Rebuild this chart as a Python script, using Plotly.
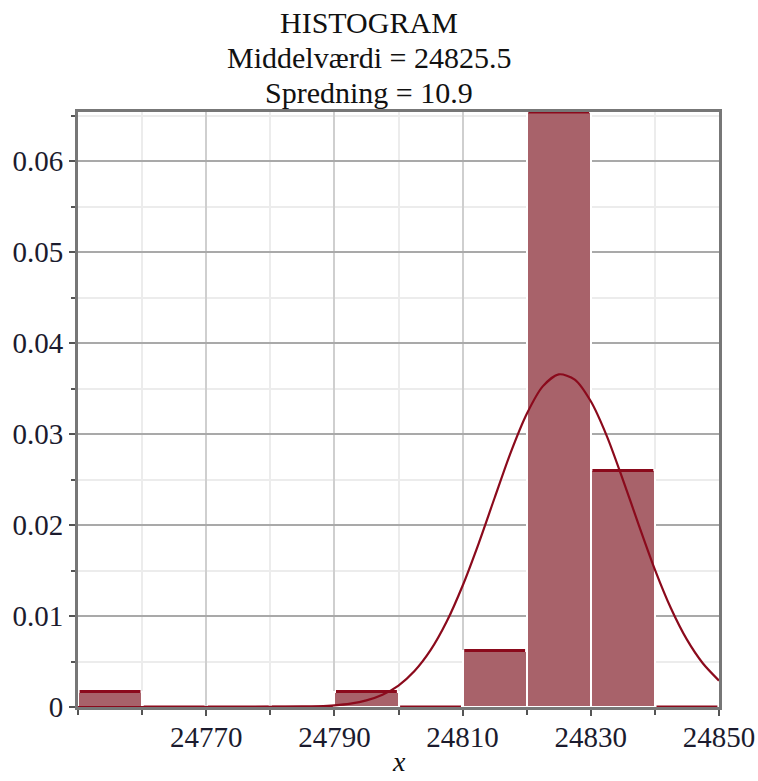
import plotly.graph_objects as go

# Histogram data (density), bin edges of width 10
bin_left = [24750, 24760, 24770, 24780, 24790, 24800, 24810, 24820, 24830, 24840]
bin_height = [0.0017, 0.0, 0.0, 0.0, 0.0017, 0.0, 0.0062, 0.0654, 0.0260, 0.0]
bin_width = 10

# Fitted normal curve
curve_x = [24750, 24755, 24760, 24765, 24770, 24775, 24780, 24785, 24787.5, 24790, 24792.5,
           24795, 24797.5, 24800, 24802.5, 24805, 24807.5, 24810, 24812.5, 24815, 24817.5,
           24820, 24822.5, 24825, 24827.5, 24830, 24832.5, 24835, 24837.5, 24840, 24842.5,
           24845, 24847.5, 24850]
curve_y = [0.0, 0.0, 0.0, 0.0, 0.0, 0.000001, 0.000006, 0.000037, 0.000084, 0.00018, 0.00037,
           0.00073, 0.00135, 0.00236, 0.00395, 0.00624, 0.00936, 0.01333, 0.01797, 0.0230, 0.02796,
           0.0322, 0.03524, 0.03656, 0.03599, 0.0336, 0.02978, 0.0250, 0.01997, 0.0151, 0.01085,
           0.0074, 0.00478, 0.0029]

title_lines = ["HISTOGRAM", "Middelværdi = 24825.5", "Spredning = 10.9"]
y_tickvals = [0, 0.01, 0.02, 0.03, 0.04, 0.05, 0.06]
y_ticktext = ["0", "0.01", "0.02", "0.03", "0.04", "0.05", "0.06"]
x_tickvals = [24770, 24790, 24810, 24830, 24850]
x_ticktext = ["24770", "24790", "24810", "24830", "24850"]

FONT = "Liberation Serif, Times New Roman, serif"
BAR_FILL = "#a8626a"
DARK = "#8b0a1c"

fig = go.Figure()

centers = [b + bin_width / 2 for b in bin_left]
fig.add_trace(go.Bar(
    x=centers, y=bin_height, width=[bin_width] * len(centers),
    marker=dict(color=BAR_FILL, line=dict(color="white", width=2)),
    hoverinfo="skip", showlegend=False,
))

# top edges of the bins
tx, ty = [], []
for b, h in zip(bin_left, bin_height):
    tx += [b + 0.25, b + bin_width - 0.25, None]
    ty += [h, h, None]
fig.add_trace(go.Scatter(x=tx, y=ty, mode="lines",
                         line=dict(color=DARK, width=3), showlegend=False, hoverinfo="skip"))

fig.add_trace(go.Scatter(x=curve_x, y=curve_y, mode="lines",
                         line=dict(color=DARK, width=2.2, shape="spline", smoothing=0.8),
                         showlegend=False, hoverinfo="skip"))

ymax = max(bin_height)

fig.update_layout(
    width=758, height=781,
    margin=dict(l=78, r=39, t=112, b=74),
    paper_bgcolor="white", plot_bgcolor="white",
    bargap=0,
    font=dict(family=FONT, size=29, color="#1b1b2e"),
    xaxis=dict(
        range=[24750, 24850], tickvals=x_tickvals, ticktext=x_ticktext,
        automargin=False, ticklabelstandoff=-4,
        showgrid=True, gridcolor="#cfcfcf", gridwidth=2,
        ticks="outside", ticklen=6, tickcolor="#555", tickwidth=2,
        minor=dict(dtick=10, tick0=24750, showgrid=True, gridcolor="#ececec", gridwidth=2,
                   ticks="outside", ticklen=5, tickcolor="#555", tickwidth=2),
        showline=True, linecolor="#777", linewidth=3, mirror=True,
        zeroline=False, tickfont=dict(family=FONT, size=29),
    ),
    yaxis=dict(
        range=[0, ymax], tickvals=y_tickvals, ticktext=y_ticktext,
        automargin=False,
        showgrid=True, gridcolor="#a9a9a9", gridwidth=1.5,
        ticks="outside", ticklen=6, tickcolor="#555", tickwidth=2,
        minor=dict(dtick=0.005, tick0=0, showgrid=True, gridcolor="#ececec", gridwidth=2,
                   ticks="outside", ticklen=4, tickcolor="#555", tickwidth=2),
        showline=True, linecolor="#777", linewidth=3, mirror=True,
        zeroline=False, tickfont=dict(family=FONT, size=29),
    ),
)

for text, y in zip(title_lines, [1.151, 1.092, 1.032]):
    fig.add_annotation(text=text, x=0.454, y=y, xref="paper", yref="paper",
                       showarrow=False, xanchor="center", yanchor="middle",
                       font=dict(family=FONT, size=30, color="#111"))

fig.add_annotation(text="<i>x</i>", x=0.5, y=-0.12, xref="paper", yref="paper",
                   showarrow=False, xanchor="center", yanchor="bottom", borderpad=0,
                   font=dict(family=FONT, size=28, color="#111"))

fig.write_html("out.html")
